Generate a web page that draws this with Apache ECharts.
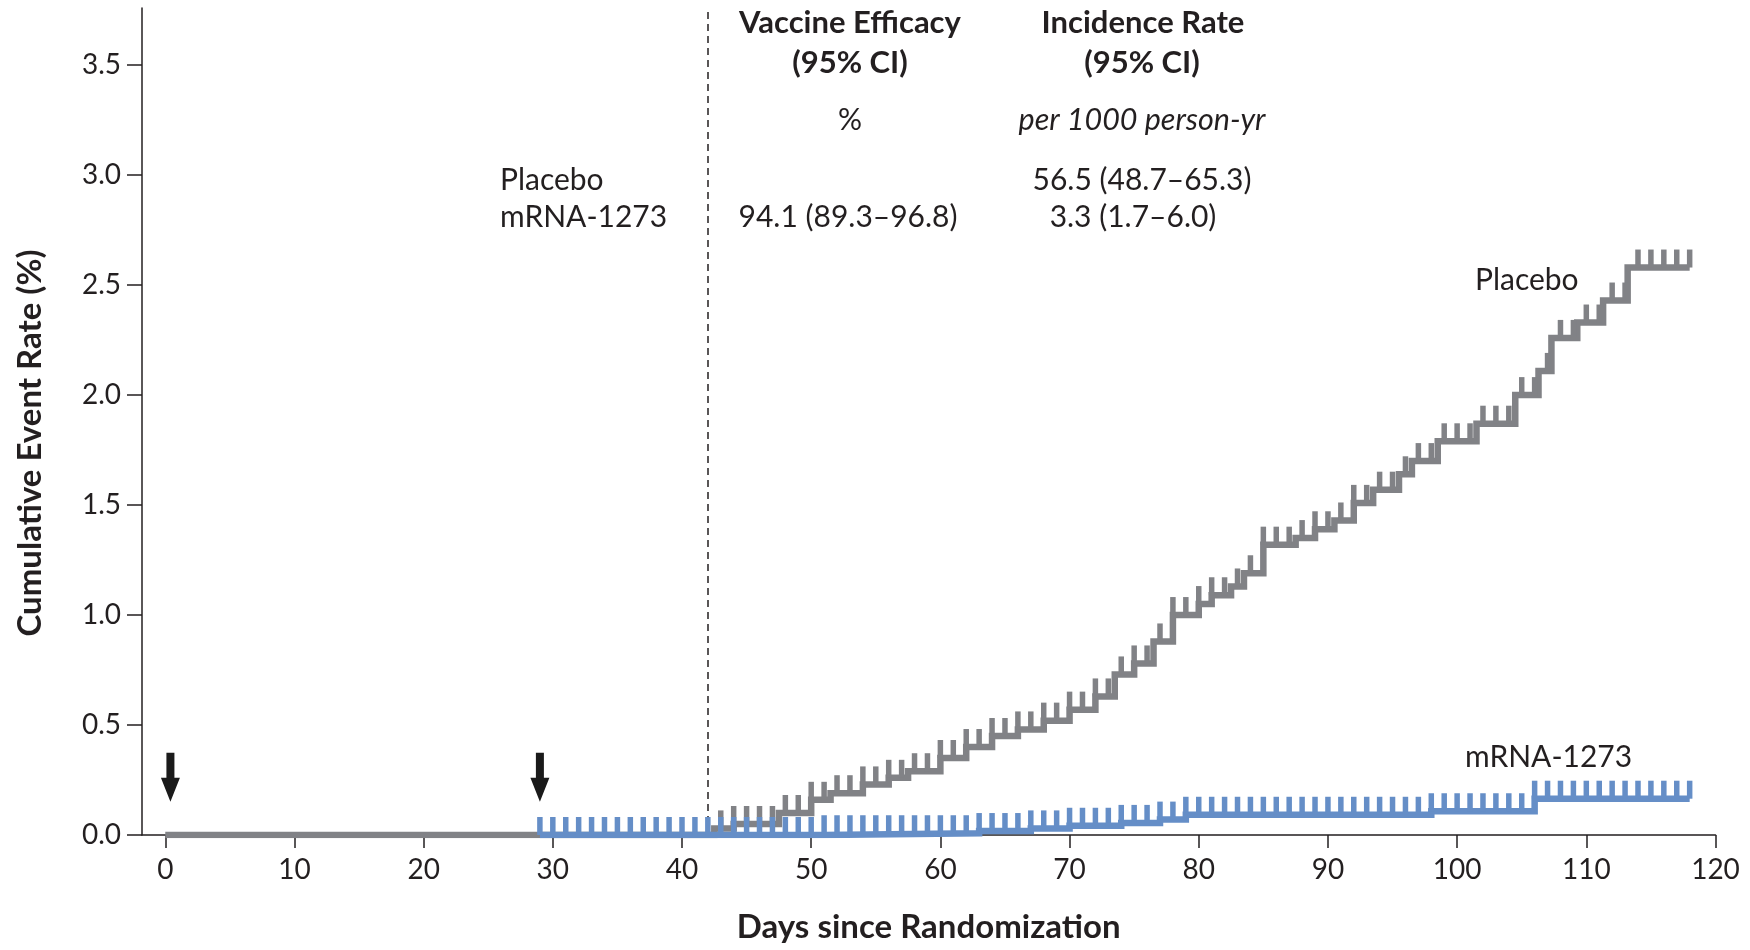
<!DOCTYPE html>
<html>
<head>
<meta charset="utf-8">
<script src="https://cdn.jsdelivr.net/npm/echarts@6/dist/echarts.min.js"></script>
<style>
html,body{margin:0;padding:0;background:#fff;}
#chart{width:1750px;height:950px;}
</style>
</head>
<body>
<div id="chart"></div>
<script>
// ---- data ----
const xTicks = [0, 10, 20, 30, 40, 50, 60, 70, 80, 90, 100, 110, 120];
const yTicks = [0, 0.5, 1.0, 1.5, 2.0, 2.5, 3.0, 3.5];

// placebo step curve: day where each level starts, and level (%)
const placeboDays  = [0, 42.5, 44, 47.5, 50, 51.5, 54, 56, 57.5, 60, 62, 64, 66, 68, 70, 72, 73.5, 75, 76.5, 78, 80, 81, 82.5, 83.5, 85, 87.5, 89, 90.5, 92, 93.5, 95.5, 96.5, 98.5, 101.5, 104.5, 106.3, 107.3, 109.3, 111.3, 113.2, 118];
const placeboRates = [0, 0.03, 0.05, 0.10, 0.16, 0.19, 0.23, 0.26, 0.29, 0.35, 0.40, 0.45, 0.48, 0.52, 0.57, 0.63, 0.73, 0.78, 0.88, 1.00, 1.05, 1.09, 1.13, 1.19, 1.32, 1.35, 1.39, 1.43, 1.51, 1.57, 1.64, 1.70, 1.79, 1.87, 2.00, 2.11, 2.26, 2.33, 2.43, 2.58, 2.58];

// mRNA-1273 step curve
const mrnaDays  = [29, 51, 63, 67, 70, 74, 77, 79, 98, 106, 118];
const mrnaRates = [0, 0.008, 0.018, 0.03, 0.042, 0.055, 0.07, 0.092, 0.108, 0.165, 0.165];

// censoring marks (days)
const placeboCensorStart = 43, placeboCensorEnd = 118;
const mrnaCensorStart = 29, mrnaCensorEnd = 118;

// dose arrows (days) and efficacy window start
const doseDays = [0.4, 29];
const windowStart = 42;

const GRAY = '#818286';
const BLUE = '#658ec7';
const INK = '#231f20';
const FONT = 'Lato';

function pairs(xs, ys) { return xs.map((x, i) => [x, ys[i]]); }
function levelAt(xs, ys, d) {
  let v = ys[0];
  for (let i = 0; i < xs.length; i++) { if (xs[i] <= d) v = ys[i]; }
  return v;
}
function censor(xs, ys, a, b) {
  const out = [];
  for (let d = a; d <= b; d++) out.push([d, levelAt(xs, ys, d)]);
  return out;
}

const chart = echarts.init(document.getElementById('chart'), null, {renderer: 'canvas'});

const tickSym = {symbol: 'rect', symbolSize: [5.5, 18], symbolOffset: [0, -9]};

const txt = (text, x, y, opts) => Object.assign({
  type: 'text', silent: true,
  style: Object.assign({
    text: text, x: x, y: y, fill: INK,
    fontFamily: FONT, fontSize: 30,
    textAlign: 'center', textVerticalAlign: 'middle'
  }, opts || {})
});

chart.setOption({
  animation: false,
  backgroundColor: '#fff',
  grid: {left: 142, right: 34.5, top: 8, bottom: 115, containLabel: false},
  xAxis: {
    type: 'value', min: -1.8, max: 120,
    name: 'Days since Randomization', nameLocation: 'middle', nameGap: 76,
    nameTextStyle: {fontFamily: FONT, fontSize: 33, fontWeight: 'bold', color: INK},
    axisLine: {show: true, onZero: false, lineStyle: {color: INK, width: 1.5}},
    axisTick: {show: true, length: 13, inside: false, customValues: xTicks, lineStyle: {color: INK, width: 1.5}},
    axisLabel: {customValues: xTicks, margin: 21, fontFamily: FONT, fontSize: 28, color: INK},
    splitLine: {show: false}
  },
  yAxis: {
    type: 'value', min: 0, max: 3.76,
    axisLine: {show: true, onZero: false, lineStyle: {color: INK, width: 1.5}},
    axisTick: {show: true, length: 15, inside: false, customValues: yTicks, lineStyle: {color: INK, width: 1.5}},
    axisLabel: {customValues: yTicks, margin: 21, fontFamily: FONT, fontSize: 28, color: INK,
      formatter: v => v.toFixed(1)},
    splitLine: {show: false}
  },
  series: [
    {
      name: 'Placebo', type: 'line', step: 'end', data: pairs(placeboDays, placeboRates),
      showSymbol: false, symbol: 'none', lineStyle: {color: GRAY, width: 6.5, cap: 'butt', join: 'miter'}, z: 2,
      markLine: {
        silent: true, symbol: ['none', 'none'], label: {show: false},
        lineStyle: {color: INK, width: 1.5, type: [7, 5], opacity: 1},
        data: [{xAxis: windowStart}]
      }
    },
    {
      name: 'Placebo censored', type: 'scatter', data: censor(placeboDays, placeboRates, placeboCensorStart, placeboCensorEnd),
      ...tickSym, itemStyle: {color: GRAY, opacity: 1}, z: 3, silent: true
    },
    {
      name: 'mRNA-1273', type: 'line', step: 'end', data: pairs(mrnaDays, mrnaRates),
      showSymbol: false, symbol: 'none', lineStyle: {color: BLUE, width: 6.5, cap: 'butt', join: 'miter'}, z: 4
    },
    {
      name: 'mRNA-1273 censored', type: 'scatter', data: censor(mrnaDays, mrnaRates, mrnaCensorStart, mrnaCensorEnd),
      ...tickSym, itemStyle: {color: BLUE, opacity: 1}, z: 5, silent: true
    },
    {
      name: 'Doses', type: 'scatter', data: doseDays.map(d => [d, 0.262]),
      symbol: 'path://M5.5,0 L13.5,0 L13.5,25 L19,25 L9.5,49 L0,25 L5.5,25 Z',
      symbolSize: [19, 49], itemStyle: {color: '#1a1a1a', opacity: 1}, z: 6, silent: true
    }
  ],
  graphic: [
    {
      type: 'text', silent: true, x: 30, y: 443, rotation: Math.PI / 2,
      style: {text: 'Cumulative Event Rate (%)', x: 0, y: 0, fill: INK, fontFamily: FONT,
        fontSize: 33, fontWeight: 'bold', textAlign: 'center', textVerticalAlign: 'middle'}
    },
    txt('Vaccine Efficacy', 850, 23, {fontWeight: 'bold', fontSize: 31}),
    txt('(95% CI)', 850, 63, {fontWeight: 'bold', fontSize: 31}),
    txt('%', 850, 120),
    txt('Incidence Rate', 1143, 23, {fontWeight: 'bold', fontSize: 31}),
    txt('(95% CI)', 1142, 63, {fontWeight: 'bold', fontSize: 31}),
    txt('per 1000 person-yr', 1142, 120, {fontStyle: 'italic', fontSize: 30.5}),
    txt('Placebo', 500, 180, {textAlign: 'left'}),
    txt('mRNA-1273', 500, 217, {textAlign: 'left'}),
    txt('56.5 (48.7\u201365.3)', 1142, 180),
    txt('94.1 (89.3\u201396.8)', 848, 217),
    txt('3.3 (1.7\u20136.0)', 1133, 217),
    txt('Placebo', 1475, 280, {textAlign: 'left'}),
    txt('mRNA-1273', 1465, 757, {textAlign: 'left'})
  ]
});
</script>
</body>
</html>
